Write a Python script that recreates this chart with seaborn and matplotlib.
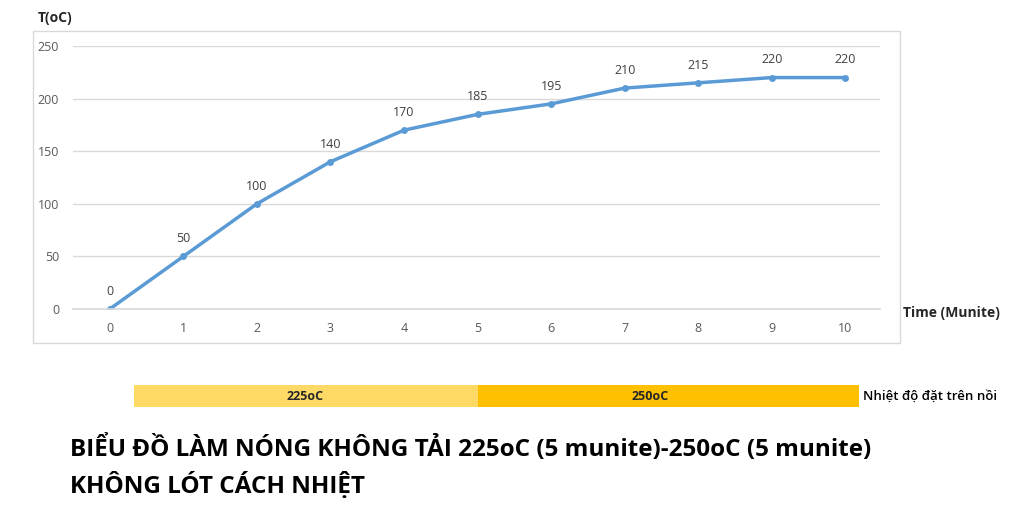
import matplotlib
matplotlib.use("Agg")
import matplotlib.pyplot as plt
import seaborn as sns
import pandas as pd
from matplotlib.patches import Rectangle

# du lieu
thoi_gian = [0, 1, 2, 3, 4, 5, 6, 7, 8, 9, 10]
nhiet_do = [0, 50, 100, 140, 170, 185, 195, 210, 215, 220, 220]
y_ticks = [0, 50, 100, 150, 200, 250]
nhiet_do_dat = ["225oC", "250oC"]
doan_thoi_gian = [(0.33, 5.0), (5.0, 10.19)]
vi_tri_nhan = [2.66, 7.34]

df = pd.DataFrame({"Time": thoi_gian, "T": nhiet_do})

sns.set_theme(style="white")
plt.rcParams["font.family"] = ["Open Sans", "DejaVu Sans"]

fig = plt.figure(figsize=(10.24, 5.14), dpi=100)
W, H = 1024, 514

# khung ngoai cua bieu do
fig.patches.append(Rectangle((33 / W, 1 - 343 / H), (900 - 33) / W, (343 - 31) / H,
                             transform=fig.transFigure, fill=False,
                             edgecolor="#d9d9d9", linewidth=1))

ax_left, ax_width = 73 / W, (880 - 73) / W
ax = fig.add_axes([ax_left, 1 - 309 / H, ax_width, (309 - 46) / H])
sns.lineplot(data=df, x="Time", y="T", ax=ax, color="#5b9bd5", linewidth=2.5,
             marker="o", markersize=5, markeredgewidth=0)
ax.set_xlim(-0.5, 10.47)
ax.set_ylim(0, 250)
ax.set_xticks(thoi_gian)
ax.set_yticks(y_ticks)
ax.grid(axis="y", color="#d9d9d9", linewidth=1)
for s in ax.spines.values():
    s.set_visible(False)
ax.spines["bottom"].set_visible(True)
ax.spines["bottom"].set_color("#d9d9d9")
ax.tick_params(axis="both", colors="#595959", labelsize=9, length=0)
ax.tick_params(axis="x", pad=9)
ax.tick_params(axis="y", pad=10)
ax.set_xlabel("")
ax.set_ylabel("")

for x, y in zip(thoi_gian, nhiet_do):
    ax.annotate(str(y), (x, y), xytext=(0, 8), textcoords="offset points",
                ha="center", va="bottom", fontsize=9, color="#404040")

fig.text(38 / W, 1 - 18 / H, "T(oC)", fontsize=10, fontweight="bold",
         color="#262626", va="center")
fig.text(903 / W, 1 - 313 / H, "Time (Munite)", fontsize=10, fontweight="bold",
         color="#262626", va="center")

# thanh nhiet do dat tren noi (cung truc x voi bieu do)
bx = fig.add_axes([ax_left, 1 - 407 / H, ax_width, (407 - 385) / H])
mau = ["#ffd966", "#ffc000"]
for (a, b), nhan, xt, c in zip(doan_thoi_gian, nhiet_do_dat, vi_tri_nhan, mau):
    bx.barh(0, b - a, left=a, height=1, color=c, linewidth=0)
    bx.text(xt, 0, nhan, ha="center", va="center", fontsize=9,
            fontweight="bold", color="#262626")
bx.set_xlim(ax.get_xlim())
bx.set_ylim(-0.5, 0.5)
bx.axis("off")
fig.text(863 / W, 1 - 396 / H, "Nhiệt độ đặt trên nồi", fontsize=9.5,
         fontweight="semibold", color="#000000", va="center")

fig.text(70 / W, 1 - 449 / H,
         "BIỂU ĐỒ LÀM NÓNG KHÔNG TẢI 225oC (5 munite)-250oC (5 munite)",
         fontsize=17.5, fontweight="bold", va="center", color="#000000")
fig.text(70 / W, 1 - 485 / H, "KHÔNG LÓT CÁCH NHIỆT",
         fontsize=17.5, fontweight="bold", va="center", color="#000000")

fig.savefig("out.png", dpi=100)
